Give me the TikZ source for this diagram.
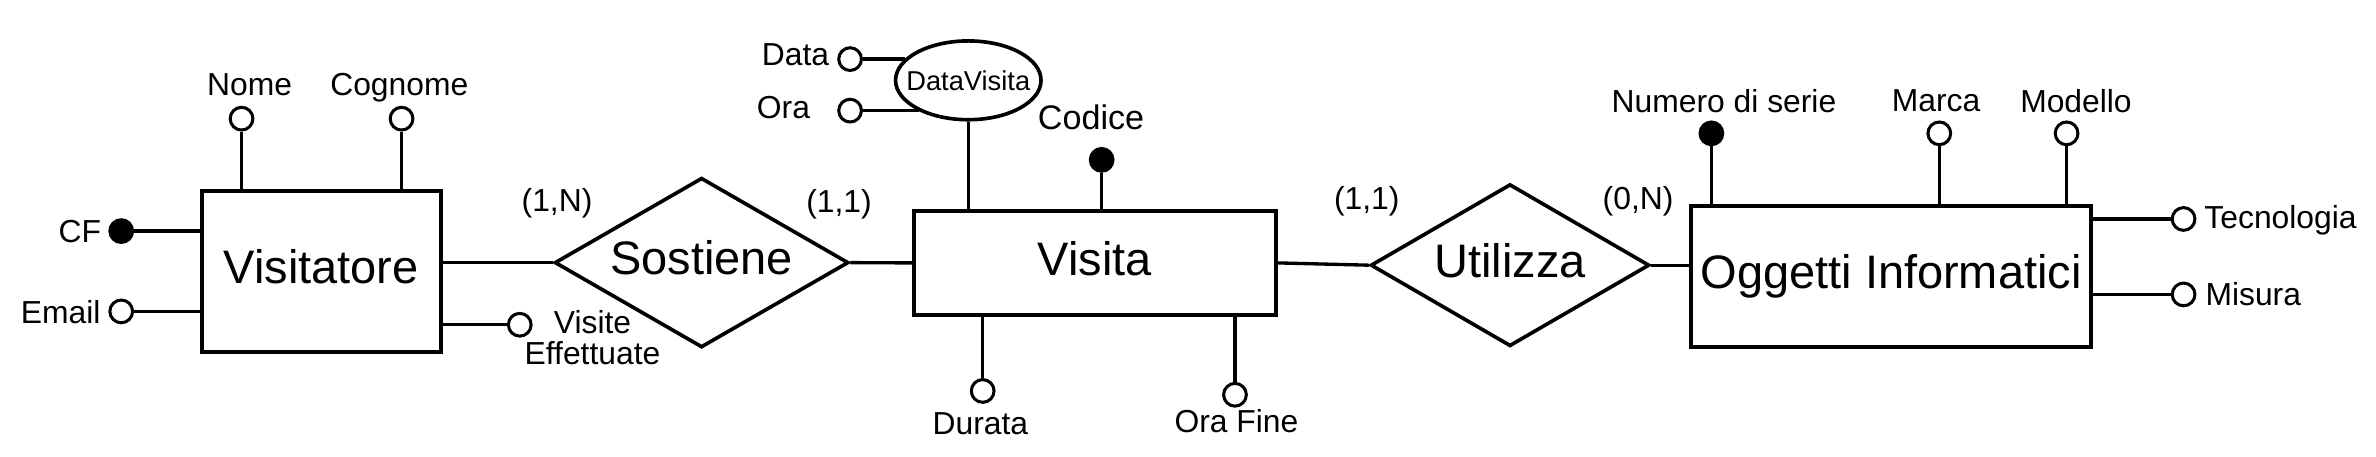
\documentclass[tikz,border=0pt]{standalone}
\usepackage{fontspec}
\setmainfont{Liberation Sans}
\usetikzlibrary{shapes,positioning}

\newcommand{\entfont}{\fontsize{31}{36}\selectfont}
\newcommand{\attfont}{\fontsize{21}{25}\selectfont}

\begin{document}
\begin{tikzpicture}[x=1pt,y=-1pt,line width=2.2pt,
  entity/.style={draw,rectangle,line width=2.6pt,inner sep=2pt,font=\entfont,text height=22.3pt,text depth=6.2pt},
  relation/.style={draw,diamond,line width=2.4pt,inner sep=0pt,font=\entfont,text height=22.3pt,text depth=6.2pt},
  attr/.style={draw,circle,line width=2pt,fill=white,inner sep=0pt,minimum size=15pt},
  key/.style={attr,fill=black}]
  \tikzstyle{word} = [font=\attfont,inner sep=0pt,text depth=0pt]
  \tikzstyle{card} = [font=\attfont,inner sep=0pt]
  \useasboundingbox (0,0) rectangle (1568,301);

  % entities and relations
  \node (visitatore) [entity,minimum width=158pt,minimum height=106pt] at (212,179) {Visitatore};
  \node (visita) [entity,minimum width=239pt,minimum height=69pt] at (722.5,173.5) {Visita};
  \node (oggetti) [entity,minimum width=264pt,minimum height=93pt] at (1248,182.5) {Oggetti Informatici};
  \node (sostiene) [relation,minimum width=194pt,minimum height=112pt,aspect=1.73] at (463,173.3) {Sostiene};
  \node (utilizza) [relation,minimum width=184pt,minimum height=107pt,aspect=1.72] at (996.5,175) {Utilizza};
  \node (datavisita) [draw,ellipse,line width=2.4pt,inner xsep=-8pt,inner ysep=0pt,minimum width=96pt,minimum height=52pt,
    font=\fontsize{18}{22}\selectfont] at (639,53) {DataVisita};

  \draw (visitatore.east |- sostiene.west) -- (sostiene.west);
  \draw (sostiene.east) -- (visita.west);
  \draw (visita.east) -- (utilizza.west);
  \draw (utilizza.east) -- (utilizza.east -| oggetti.west);

  % cardinalities
  \node (c_1) [card] at (367.6,134) {(1,N)};
  \node (c_2) [card] at (553.7,135) {(1,1)};
  \node (c_3) [card] at (902,132.7) {(1,1)};
  \node (c_4) [card] at (1081,132.7) {(0,N)};

  % Visitatore
  \node (nome) [attr] at (159.4,78.3) {};
  \node (nome_l) [word] at (164.7,56) {Nome};
  \draw (nome) -- (nome |- visitatore.north);
  \node (cognome) [attr] at (265,78.3) {};
  \node (cognome_l) [word] at (263.5,56) {Cognome};
  \draw (cognome) -- (cognome |- visitatore.north);
  \node (cf) [key] at (80,152.5) {};
  \node (cf_l) [word] at (52.7,153) {CF};
  \draw (cf) -- (cf -| visitatore.west);
  \node (email) [attr] at (80,205.5) {};
  \node (email_l) [word] at (40,206) {Email};
  \draw (email) -- (email -| visitatore.west);
  \node (visite) [attr] at (343,214.3) {};
  \node (visite_l) [font=\fontsize{21}{20.5}\selectfont,inner sep=0pt,align=center] at (391,222.6) {Visite\\Effettuate};
  \draw (visitatore.east |- visite) -- (visite);

  % Visita
  \node (codice) [key] at (727,105.5) {};
  \node (codice_l) [word,font=\fontsize{22.5}{27}\selectfont] at (720,77) {Codice};
  \draw (codice) -- (codice |- visita.north);
  \draw (datavisita.south) -- (datavisita.south |- visita.north);
  \node (data) [attr] at (561,39) {};
  \node (data_l) [word] at (525,36) {Data};
  \draw (data) -- (data -| datavisita.161);
  \node (ora) [attr] at (561,73) {};
  \node (ora_l) [word] at (517,71) {Ora};
  \draw (ora) -- (ora -| datavisita.212);
  \node (durata) [attr] at (648.5,258) {};
  \node (durata_l) [word] at (647,279.6) {Durata};
  \draw (durata) -- (durata |- visita.south);
  \node (orafine) [attr] at (815,260.5) {};
  \node (orafine_l) [word] at (816,277.5) {Ora Fine};
  \draw (orafine) -- (orafine |- visita.south);

  % Oggetti Informatici
  \node (numero) [key] at (1129.4,88) {};
  \node (numero_l) [word] at (1137.7,66.4) {Numero di serie};
  \draw (numero) -- (numero |- oggetti.north);
  \node (marca) [attr] at (1279.8,88) {};
  \node (marca_l) [word] at (1277.7,66.4) {Marca};
  \draw (marca) -- (marca |- oggetti.north);
  \node (modello) [attr] at (1363.8,88) {};
  \node (modello_l) [word] at (1370,66.4) {Modello};
  \draw (modello) -- (modello |- oggetti.north);
  \node (tecnologia) [attr] at (1441,144.5) {};
  \node (tecnologia_l) [word] at (1505,143) {Tecnologia};
  \draw (oggetti.east |- tecnologia) -- (tecnologia);
  \node (misura) [attr] at (1441,194.3) {};
  \node (misura_l) [word] at (1487,194) {Misura};
  \draw (oggetti.east |- misura) -- (misura);
\end{tikzpicture}
\end{document}
